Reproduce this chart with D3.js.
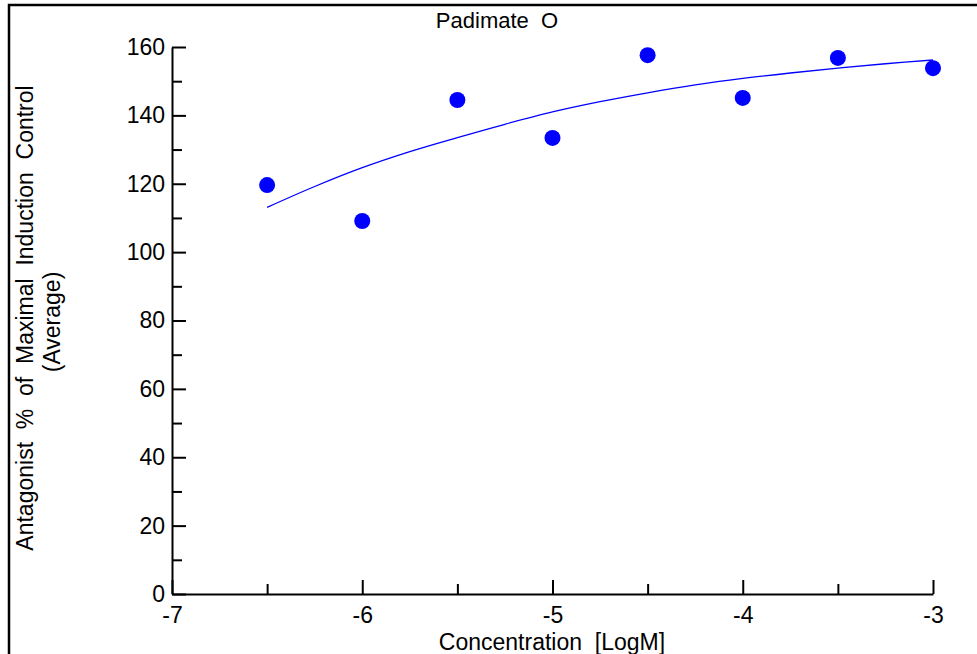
<!DOCTYPE html>
<html>
<head>
<meta charset="utf-8">
<script src="https://cdn.jsdelivr.net/npm/d3@7"></script>
<style>
  body { margin: 0; background: #fff; }
  svg { display: block; }
  text { font-family: "Liberation Sans", Arial, sans-serif; fill: #000; }
  .axis text { font-size: 23px; }
  .axis path, .axis line { stroke: #000; stroke-width: 2px; }
</style>
</head>
<body>
<svg id="chart"></svg>
<script>
// measured points (log concentration vs response)
const concentrations = [-6.5, -6, -5.5, -5, -4.5, -4, -3.5, -3];
const responses = [119.6, 109.1, 144.5, 133.4, 157.6, 145.1, 156.8, 153.8];

// fitted curve
const fitX = [-6.5, -6.25, -6.0, -5.75, -5.5, -5.25, -5.0, -4.75, -4.5, -4.25, -4.0, -3.75, -3.5, -3.25, -3.0];
const fitY = [113.1, 119.2, 124.7, 129.4, 133.5, 137.4, 141.0, 144.0, 146.6, 148.9, 150.8, 152.4, 153.8, 155.1, 156.2];

const xMajor = [-7, -6, -5, -4, -3];
const xMinor = [-6.5, -5.5, -4.5, -3.5];
const yMajor = [0, 20, 40, 60, 80, 100, 120, 140, 160];
const yMinor = [10, 30, 50, 70, 90, 110, 130, 150];

const chartTitle = 'Padimate  O';
const xTitle = 'Concentration  [LogM]';
const yTitle1 = 'Antagonist  %  of  Maximal  Induction  Control';
const yTitle2 = '(Average)';

const W = 977, H = 654;
const margin = {top: 47, right: 44, bottom: 60, left: 172};
const width = 933 - margin.left;
const height = 594 - margin.top;

const svg = d3.select('#chart')
    .attr('width', W)
    .attr('height', H);

// outer frame (right and bottom edges fall outside the window)
svg.append('rect')
    .attr('x', 9).attr('y', 5)
    .attr('width', 1000).attr('height', 700)
    .attr('fill', 'none')
    .attr('stroke', '#000')
    .attr('stroke-width', 2.5);

const chart = svg.append('g')
    .attr('transform', `translate(${margin.left},${margin.top})`);

const xScale = d3.scaleLinear().domain([-7, -3]).range([0, width]);
const yScale = d3.scaleLinear().domain([0, 160]).range([height, 0]);

// minor ticks first
chart.append('g')
    .attr('class', 'axis')
    .attr('transform', `translate(0,${height})`)
    .call(d3.axisBottom(xScale).tickValues(xMinor).tickSizeInner(-10).tickSizeOuter(0).tickFormat(''))
    .call(g => g.select('.domain').remove());

chart.append('g')
    .attr('class', 'axis')
    .call(d3.axisLeft(yScale).tickValues(yMinor).tickSizeInner(-10).tickSizeOuter(0).tickFormat(''))
    .call(g => g.select('.domain').remove());

// major axes
chart.append('g')
    .attr('class', 'axis x-axis')
    .attr('transform', `translate(0,${height})`)
    .call(d3.axisBottom(xScale).tickValues(xMajor).tickSizeInner(-14).tickSizeOuter(0).tickFormat(d => String(d)))
    .call(g => g.selectAll('text').attr('y', 29).attr('dy', 0));

chart.append('g')
    .attr('class', 'axis y-axis')
    .call(d3.axisLeft(yScale).tickValues(yMajor).tickSizeInner(-14).tickSizeOuter(0).tickPadding(7).tickFormat(d => String(d)));

// fitted curve
const line = d3.line()
    .x(d => xScale(d[0]))
    .y(d => yScale(d[1]))
    .curve(d3.curveCatmullRom);

chart.append('path')
    .datum(fitX.map((x, i) => [x, fitY[i]]))
    .attr('d', line)
    .attr('fill', 'none')
    .attr('stroke', '#0000ff')
    .attr('stroke-width', 1.3);

// data points
chart.selectAll('.dot')
    .data(concentrations.map((x, i) => ({x: x, y: responses[i]})))
  .join('circle')
    .attr('class', 'dot')
    .attr('cx', d => xScale(d.x))
    .attr('cy', d => yScale(d.y))
    .attr('r', 8)
    .attr('fill', '#0000ff');

// titles
svg.append('text')
    .attr('x', 497).attr('y', 28)
    .attr('text-anchor', 'middle')
    .style('font-size', '22px')
    .style('white-space', 'pre')
    .text(chartTitle);

svg.append('text')
    .attr('x', 552).attr('y', 650)
    .attr('text-anchor', 'middle')
    .style('font-size', '23px')
    .style('white-space', 'pre')
    .text(xTitle);

svg.append('text')
    .attr('transform', 'translate(33,318) rotate(-90)')
    .attr('text-anchor', 'middle')
    .style('font-size', '23px')
    .style('white-space', 'pre')
    .text(yTitle1);

svg.append('text')
    .attr('transform', 'translate(60,322) rotate(-90)')
    .attr('text-anchor', 'middle')
    .style('font-size', '23px')
    .text(yTitle2);
</script>
</body>
</html>
